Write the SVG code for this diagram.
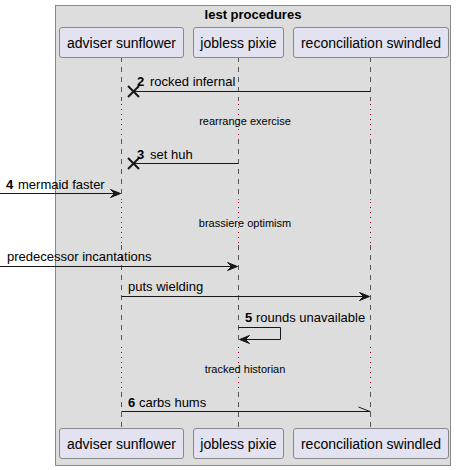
<svg xmlns="http://www.w3.org/2000/svg" width="457" height="470" viewBox="0 0 457 470">
<style>
text{font-family:"Liberation Sans",Arial,sans-serif;fill:#000}
.p{font-size:14px;text-anchor:middle}
.m{font-size:13px}
.n{font-size:13px;font-weight:bold}
.d{font-size:11px;text-anchor:middle}
.pbox{fill:#E2E2F0;stroke:#888;stroke-width:1}
.life{stroke:#555;stroke-width:1;stroke-dasharray:5,5;fill:none}
.delay{stroke:#A80036;stroke-width:1;stroke-dasharray:1,4;fill:none}
.msg{stroke:#181818;stroke-width:1;fill:none}
.head{fill:#181818;stroke:#181818}
.x{stroke:#181818;stroke-width:2}
</style>
<rect width="457" height="470" fill="#fff"/>
<g id="box">
<rect x="55.5" y="5.5" width="395" height="460" fill="#DDDDDD" stroke="#888" stroke-width="1"/>
<text x="253" y="19" style="font-size:13px;font-weight:bold;text-anchor:middle">lest procedures</text>
</g>
<g id="lifelines">
<path class="life" d="M121.5 57V101M121.5 139V200M121.5 245V345M121.5 392V428"/>
<path class="delay" d="M121.5 104V138M121.5 202V245M121.5 347V390"/>
<path class="life" d="M238.5 57V101M238.5 139V200M238.5 245V345M238.5 392V428"/>
<path class="delay" d="M238.5 104V138M238.5 202V245M238.5 347V390"/>
<path class="life" d="M370.5 57V101M370.5 139V200M370.5 245V345M370.5 392V428"/>
<path class="delay" d="M370.5 104V138M370.5 202V245M370.5 347V390"/>
</g>
<g id="p1">
<rect class="pbox" x="59.5" y="27.5" width="124" height="30" rx="2.5"/>
<text class="p" x="121.5" y="48">adviser sunflower</text>
<rect class="pbox" x="59.5" y="428.5" width="124" height="30" rx="2.5"/>
<text class="p" x="121.5" y="449">adviser sunflower</text>
</g>
<g id="p2">
<rect class="pbox" x="193.5" y="27.5" width="90" height="30" rx="2.5"/>
<text class="p" x="238.5" y="48">jobless pixie</text>
<rect class="pbox" x="193.5" y="428.5" width="90" height="30" rx="2.5"/>
<text class="p" x="238.5" y="449">jobless pixie</text>
</g>
<g id="p3">
<rect class="pbox" x="293.5" y="27.5" width="155" height="30" rx="2.5"/>
<text class="p" x="371" y="48">reconciliation swindled</text>
<rect class="pbox" x="293.5" y="428.5" width="155" height="30" rx="2.5"/>
<text class="p" x="371" y="449">reconciliation swindled</text>
</g>
<g id="connectors">
<path class="msg" d="M370.5 91.5H133"/>
<path class="x" d="M128 86L139 97M128 97L139 86"/>
<text class="n" x="137" y="86">2</text><text class="m" x="150" y="86">rocked infernal</text>

<text class="d" x="245" y="125">rearrange exercise</text>

<path class="msg" d="M238.5 163.5H133"/>
<path class="x" d="M128 158L139 169M128 169L139 158"/>
<text class="n" x="137" y="159">3</text><text class="m" x="150" y="159">set huh</text>

<path class="msg" d="M0 193.5H120"/>
<path class="head" d="M120.5 193.5L110.5 189.5L114.5 193.5L110.5 197.5Z"/>
<text class="n" x="6" y="189">4</text><text class="m" x="18" y="189">mermaid faster</text>

<text class="d" x="245" y="227">brassiere optimism</text>

<path class="msg" d="M0 266.5H237"/>
<path class="head" d="M237.5 266.5L227.5 262.5L231.5 266.5L227.5 270.5Z"/>
<text class="m" x="7" y="261">predecessor incantations</text>

<path class="msg" d="M121.5 296.5H369"/>
<path class="head" d="M369.5 296.5L359.5 292.5L363.5 296.5L359.5 300.5Z"/>
<text class="m" x="128" y="291">puts wielding</text>

<path class="msg" d="M238.5 327.5H280.5V339.5H240"/>
<path class="head" d="M239.5 339.5L249.5 335.5L245.5 339.5L249.5 343.5Z"/>
<text class="n" x="245" y="322">5</text><text class="m" x="256" y="322">rounds unavailable</text>

<text class="d" x="245" y="373">tracked historian</text>

<path class="msg" d="M121.5 411.5H370.5M370 411.5L358.5 407"/>
<text class="n" x="128" y="407">6</text><text class="m" x="139" y="407">carbs hums</text>
</g>
</svg>
